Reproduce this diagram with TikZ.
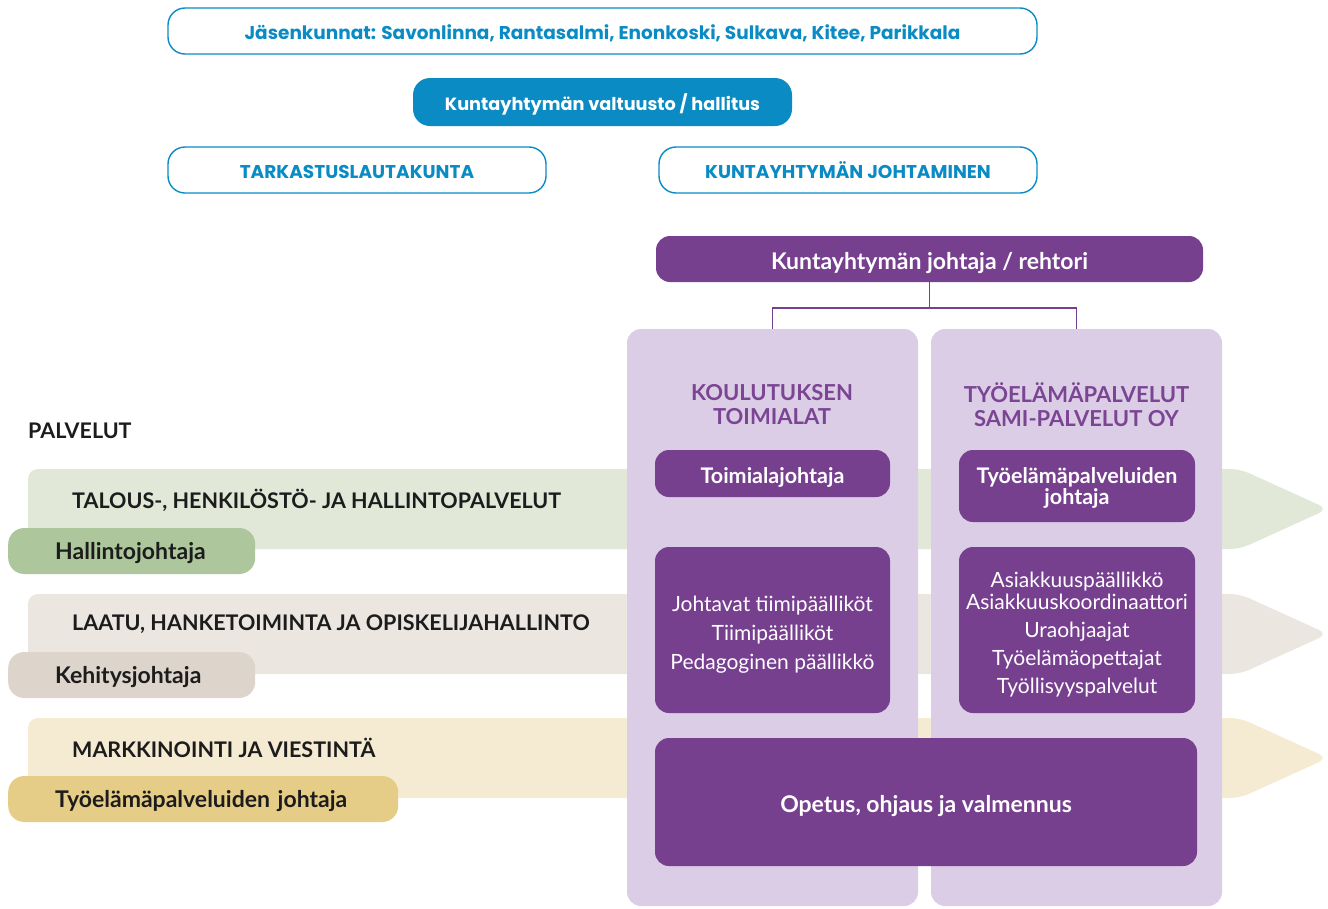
\documentclass[tikz,border=0pt]{standalone}
\usepackage{fontspec}
\setmainfont{Lato}
\newfontfamily\popfont{Poppins}
\usetikzlibrary{positioning}

\definecolor{kblue}{HTML}{0A8BC4}
\definecolor{kpurple}{HTML}{76408F}
\definecolor{kheadtext}{HTML}{7B4593}
\definecolor{klilac}{HTML}{DBCDE6}
\definecolor{bandgreen}{HTML}{E1E8D8}
\definecolor{bandgrey}{HTML}{EBE6E0}
\definecolor{bandcream}{HTML}{F5EBD3}
\definecolor{taggreen}{HTML}{ADC69B}
\definecolor{taggrey}{HTML}{DDD5CC}
\definecolor{taggold}{HTML}{E6CD87}
\definecolor{darktext}{HTML}{1C1C1C}

\tikzset{
  blueframe/.style={draw=kblue, line width=1.4pt, rounded corners=17pt, text=kblue,
    font=\popfont\bfseries\fontsize{18.5}{21}\selectfont, minimum height=46pt, inner sep=0pt,
    text height=16pt, text depth=0pt},
  bluefill/.style={fill=kblue, rounded corners=17pt, text=white,
    font=\popfont\bfseries\fontsize{17.7}{21}\selectfont, minimum height=48pt, inner sep=0pt,
    text height=16pt, text depth=0pt},
  column/.style={fill=klilac, rounded corners=14pt, inner sep=0pt},
  colhead/.style={text=kheadtext, align=center, font=\bfseries\fontsize{22}{24}\selectfont},
  pbox/.style={fill=kpurple, rounded corners=14pt, text=white, align=center, inner sep=0pt,
    font=\bfseries\fontsize{21.5}{21}\selectfont},
  onerow/.style={text height=20pt, text depth=0pt},
  plist/.style={pbox, font=\fontsize{21}{22}\selectfont},
  bandtext/.style={anchor=west, text=darktext, font=\bfseries\fontsize{21.5}{22}\selectfont, inner sep=0pt},
  tag/.style={anchor=west, rounded corners=16pt, text=darktext, align=left, inner xsep=47pt,
    minimum height=46pt, font=\bfseries\fontsize{23}{24}\selectfont, text height=16.5pt, text depth=0pt},
  link/.style={draw=kpurple, line width=1.8pt},
}

\begin{document}
\begin{tikzpicture}[x=1pt,y=-1pt]
\useasboundingbox (0,0) rectangle (1328,908);

% Top of the organisation
\node[blueframe, minimum width=869pt] (jasen) at (602.5,31)
  {Jäsenkunnat: Savonlinna, Rantasalmi, Enonkoski, Sulkava, Kitee, Parikkala};
\node[bluefill, minimum width=379pt] (valtuusto) at (602.5,102) {Kuntayhtymän valtuusto / hallitus};
\node[blueframe, minimum width=378pt] (tarkastus) at (357,170) {TARKASTUSLAUTAKUNTA};
\node[blueframe, minimum width=378pt] (johtaminen) at (848,170) {KUNTAYHTYMÄN JOHTAMINEN};

% Service bands
\fill[bandgreen, rounded corners=10pt] (28,549) -- (28,469) -- (1240,469) -- (1328,509) -- (1240,549) -- cycle;
\fill[bandgrey, rounded corners=10pt] (28,674) -- (28,594) -- (1240,594) -- (1328,634) -- (1240,674) -- cycle;
\fill[bandcream, rounded corners=10pt] (28,798) -- (28,718) -- (1240,718) -- (1328,758) -- (1240,798) -- cycle;

\node[anchor=west, inner sep=0pt, text=darktext, font=\bfseries\fontsize{21.5}{22}\selectfont] (palvelut) at (28,431) {PALVELUT};
\node[bandtext] (talous) at (72,500) {TALOUS-, HENKILÖSTÖ- JA HALLINTOPALVELUT};
\node[bandtext] (laatu) at (72,624) {LAATU, HANKETOIMINTA JA OPISKELIJAHALLINTO};
\node[bandtext] (markkinointi) at (72,748) {MARKKINOINTI JA VIESTINTÄ};

\node[tag, fill=taggreen, text width=153pt] (hallinto) at (8,551) {Hallintojohtaja};
\node[tag, fill=taggrey, text width=153pt] (kehitys) at (8,675) {Kehitysjohtaja};
\node[tag, fill=taggold, text width=296pt] (tyotag) at (8,799) {Työelämäpalveluiden johtaja};

% Columns
\node[column, minimum width=291pt, minimum height=577pt] (kcol) at (772.5,617.5) {};
\node[column, minimum width=291pt, minimum height=577pt] (tcol) at (1076.5,617.5) {};
\node[colhead] (khead) at (772,405) {KOULUTUKSEN\\TOIMIALAT};
\node[colhead] (thead) at (1076.5,405) {TYÖELÄMÄPALVELUT\\SAMI-PALVELUT OY};

\node[pbox, onerow, font=\bfseries\fontsize{23}{24}\selectfont, minimum width=547pt, minimum height=46pt] (rehtori) at (929.5,259) {Kuntayhtymän johtaja / rehtori};
\coordinate (fork) at ([yshift=-26pt]rehtori.south);
\draw[link] (rehtori.south) -- (fork);
\draw[link] (kcol.north) |- (fork) -| (tcol.north);

\node[pbox, onerow, minimum width=235pt, minimum height=47pt] (toimiala) at (772.5,473.5) {Toimialajohtaja};
\node[pbox, minimum width=236pt, minimum height=72pt] (tyojohtaja) at (1077,486) {\rule{0pt}{20pt}Työelämäpalveluiden\\johtaja};
\node[plist, minimum width=235pt, minimum height=166pt] (tiimit) at (772.5,630)
  {\rule{0pt}{25pt}Johtavat tiimipäälliköt\\[7pt]Tiimipäälliköt\\[7pt]Pedagoginen päällikkö};
\node[plist, minimum width=236pt, minimum height=166pt] (asiakkuus) at (1077,630)
  {\rule{0pt}{25pt}Asiakkuuspäällikkö\\Asiakkuuskoordinaattori\\[6pt]Uraohjaajat\\[6pt]Työelämäopettajat\\[6pt]Työllisyyspalvelut};
\node[pbox, onerow, font=\bfseries\fontsize{23}{24}\selectfont, minimum width=542pt, minimum height=128pt] (opetus) at (926,802) {Opetus, ohjaus ja valmennus};
\end{tikzpicture}
\end{document}
